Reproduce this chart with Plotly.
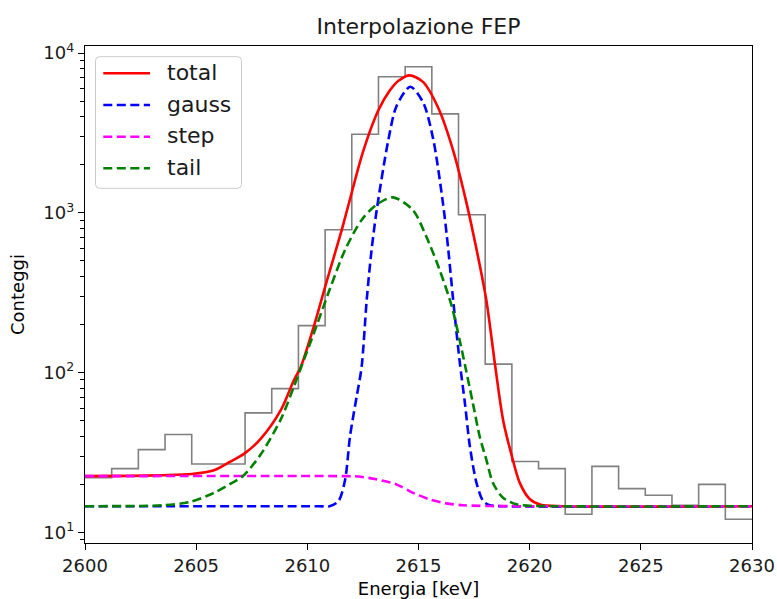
import plotly.graph_objects as go

# ---------------- data ----------------
bin_edges = [2600.0, 2601.2, 2602.4, 2603.6, 2604.8, 2606.0, 2607.2, 2608.4, 2609.6,
             2610.8, 2612.0, 2613.2, 2614.4, 2615.6, 2616.8, 2618.0, 2619.2, 2620.4,
             2621.6, 2622.8, 2624.0, 2625.2, 2626.4, 2627.6, 2628.8, 2630.0]
counts = [22.0, 25.1, 33.0, 41.0, 26.8, 26.8, 56.0, 79.4, 197.0, 783.0, 3100.0, 7100.0,
          8200.0, 4160.0, 972.0, 113.0, 27.8, 25.1, 13.0, 25.9, 18.8, 17.1, 14.8, 20.0, 12.1]

total_x = [2600.0, 2602.0, 2603.5, 2604.8, 2605.8, 2606.5, 2607.15, 2607.9, 2608.8, 2609.4,
           2609.7, 2610.3, 2610.9, 2611.5, 2611.85, 2612.5, 2613.2, 2613.7, 2614.1, 2614.6,
           2615.2, 2615.9, 2616.55, 2617.1, 2617.6, 2618.05, 2618.45, 2618.8, 2619.2,
           2619.55, 2620.0, 2620.5, 2621.5, 2630.0]
total_y = [22.5, 22.6, 22.8, 23.2, 24.5, 27.6, 31.0, 38.5, 58.0, 90.0,
           108.0, 196.0, 385.0, 740.0, 1120.0, 2400.0, 4400.0, 5800.0, 6700.0, 7250.0,
           6600.0, 4500.0, 2480.0, 1250.0, 600.0, 285.0, 110.0, 51.0, 30.0,
           20.5, 16.2, 14.9, 14.6, 14.6]

gauss_x = [2600.0, 2610.5, 2611.0, 2611.4, 2611.7, 2611.92, 2612.22, 2612.44, 2612.67, 2612.89,
           2613.12, 2613.64, 2614.01, 2614.63, 2615.21, 2615.66, 2616.11, 2616.34, 2616.56,
           2616.86, 2617.09, 2617.31, 2617.61, 2617.91, 2618.21, 2618.8, 2630.0]
gauss_y = [14.6, 14.6, 14.6, 15.7, 21.4, 40.0, 71.0, 108.0, 284.0, 587.0,
           1040.0, 2840.0, 4650.0, 6150.0, 4900.0, 2900.0, 1122.0, 587.0, 284.0,
           115.0, 64.0, 34.6, 20.4, 15.7, 14.8, 14.6, 14.6]

step_x = [2600.0, 2611.8, 2612.3, 2613.1, 2614.0, 2614.75, 2615.5, 2616.25, 2617.0, 2618.0, 2630.0]
step_y = [22.5, 22.5, 22.4, 21.5, 20.0, 17.7, 16.1, 15.2, 14.8, 14.65, 14.6]

tail_x = [2600.0, 2602.5, 2603.5, 2604.7, 2605.8, 2606.5, 2607.1, 2607.9, 2608.8, 2609.4,
          2609.7, 2610.4, 2611.0, 2611.7, 2612.45, 2613.1, 2613.85, 2614.75, 2615.35, 2615.95,
          2616.5, 2616.85, 2617.1, 2617.45, 2617.75, 2618.05, 2618.35, 2618.8, 2619.4,
          2620.0, 2630.0]
tail_y = [14.6, 14.65, 14.8, 15.5, 17.7, 20.0, 22.5, 30.7, 50.8, 82.0,
          106.0, 194.0, 330.0, 587.0, 906.0, 1122.0, 1250.0, 1040.0, 711.0, 440.0,
          259.0, 160.0, 110.0, 64.0, 40.0, 28.6, 20.4, 16.5, 15.0,
          14.7, 14.6]

series_names = ["total", "gauss", "step", "tail"]
series_colors = ["#ff0000", "#0000ff", "#ff00ff", "#008000"]
series_dash = ["solid", "9px,4.5px", "9px,4.5px", "9px,4.5px"]

x_ticks = [2600, 2605, 2610, 2615, 2620, 2625, 2630]
y_ticks = [10, 100, 1000, 10000]
y_ticktext = ["10<sup>1</sup>", "10<sup>2</sup>", "10<sup>3</sup>", "10<sup>4</sup>"]

# ---------------- figure ----------------
FONT = "DejaVu Sans"
W, H = 777, 599
ML, MR, MT, MB = 85, 25, 46, 56
PW, PH = W - ML - MR, H - MT - MB


def px(xp):  # pixel -> paper x
    return (xp - ML) / PW


def py(yp):  # pixel -> paper y
    return (H - MB - yp) / PH


fig = go.Figure()

# histogram as a step line
fig.add_trace(go.Scatter(
    x=bin_edges, y=counts + [counts[-1]], mode="lines", line_shape="hv",
    line=dict(color="#808080", width=1.6), showlegend=False, hoverinfo="skip"))

curves = [(total_x, total_y), (gauss_x, gauss_y), (step_x, step_y), (tail_x, tail_y)]
for (cx, cy), nm, col, dsh in zip(curves, series_names, series_colors, series_dash):
    fig.add_trace(go.Scatter(x=cx, y=cy, mode="lines", name=nm, showlegend=False,
                             line=dict(color=col, width=2.6, dash=dsh,
                                       shape="spline", smoothing=0.8)))

# ---- legend drawn as shapes + text (matplotlib style, upper left) ----
box_cx, box_cy, bw, bh, r = 168.5, 122.5, 146.0, 131.6, 4.0
hw, hh = bw / 2, bh / 2
path = (f"M{-hw + r},{-hh} L{hw - r},{-hh} Q{hw},{-hh} {hw},{-hh + r} "
        f"L{hw},{hh - r} Q{hw},{hh} {hw - r},{hh} L{-hw + r},{hh} "
        f"Q{-hw},{hh} {-hw},{hh - r} L{-hw},{-hh + r} Q{-hw},{-hh} {-hw + r},{-hh} Z")
shapes = [dict(type="path", xref="paper", yref="paper", xsizemode="pixel", ysizemode="pixel",
               xanchor=px(box_cx), yanchor=py(box_cy), path=path,
               fillcolor="rgba(255,255,255,0.8)", line=dict(color="#cccccc", width=1),
               layer="above")]
annotations = []
item_y = [73.3, 105.0, 136.7, 168.3]
for yy, nm, col, dsh in zip(item_y, series_names, series_colors, series_dash):
    shapes.append(dict(type="line", xref="paper", yref="paper",
                       x0=px(103.3), x1=px(150.0), y0=py(yy), y1=py(yy),
                       line=dict(color=col, width=2.6, dash=dsh), layer="above"))
    annotations.append(dict(text=nm, xref="paper", yref="paper", x=px(165.0), y=py(yy - 1),
                            xanchor="left", yanchor="middle", showarrow=False,
                            font=dict(family=FONT, size=22, color="#1a1a1a")))

minor_vals = [m * 10 ** k for k in range(0, 5) for m in range(2, 10)]

fig.update_layout(
    width=W, height=H,
    margin=dict(l=ML, r=MR, t=MT, b=MB),
    paper_bgcolor="white", plot_bgcolor="white",
    font=dict(family=FONT, size=18, color="black"),
    title=dict(text="Interpolazione FEP", x=px(418.5) * PW / W + ML / W, xanchor="center",
               y=1 - 26 / H, yanchor="middle",
               font=dict(family=FONT, size=22, color="#1a1a1a")),
    showlegend=False,
    shapes=shapes,
    annotations=annotations,
    xaxis=dict(range=[2600, 2630], tickvals=x_ticks, ticks="outside", ticklen=6, tickwidth=1.3,
               tickcolor="black", showline=True, linecolor="black", linewidth=1.3, mirror=True,
               showgrid=False, zeroline=False, automargin=False,
               title=dict(text="Energia [keV]", font=dict(family=FONT, size=18), standoff=8),
               tickfont=dict(family=FONT, size=18, color="#1a1a1a")),
    yaxis=dict(type="log", range=[0.934, 4.044], tickvals=y_ticks, ticktext=y_ticktext,
               ticks="outside", ticklen=6, tickwidth=1.3, tickcolor="black",
               showline=True, linecolor="black", linewidth=1.3, mirror=True,
               showgrid=False, zeroline=False, automargin=False,
               minor=dict(tickvals=minor_vals, ticks="outside", ticklen=3.5, tickwidth=1,
                          tickcolor="black", showgrid=False),
               title=dict(text="Conteggi", font=dict(family=FONT, size=18), standoff=14),
               tickfont=dict(family=FONT, size=18, color="#1a1a1a")),
)

fig.write_html("out.html")
